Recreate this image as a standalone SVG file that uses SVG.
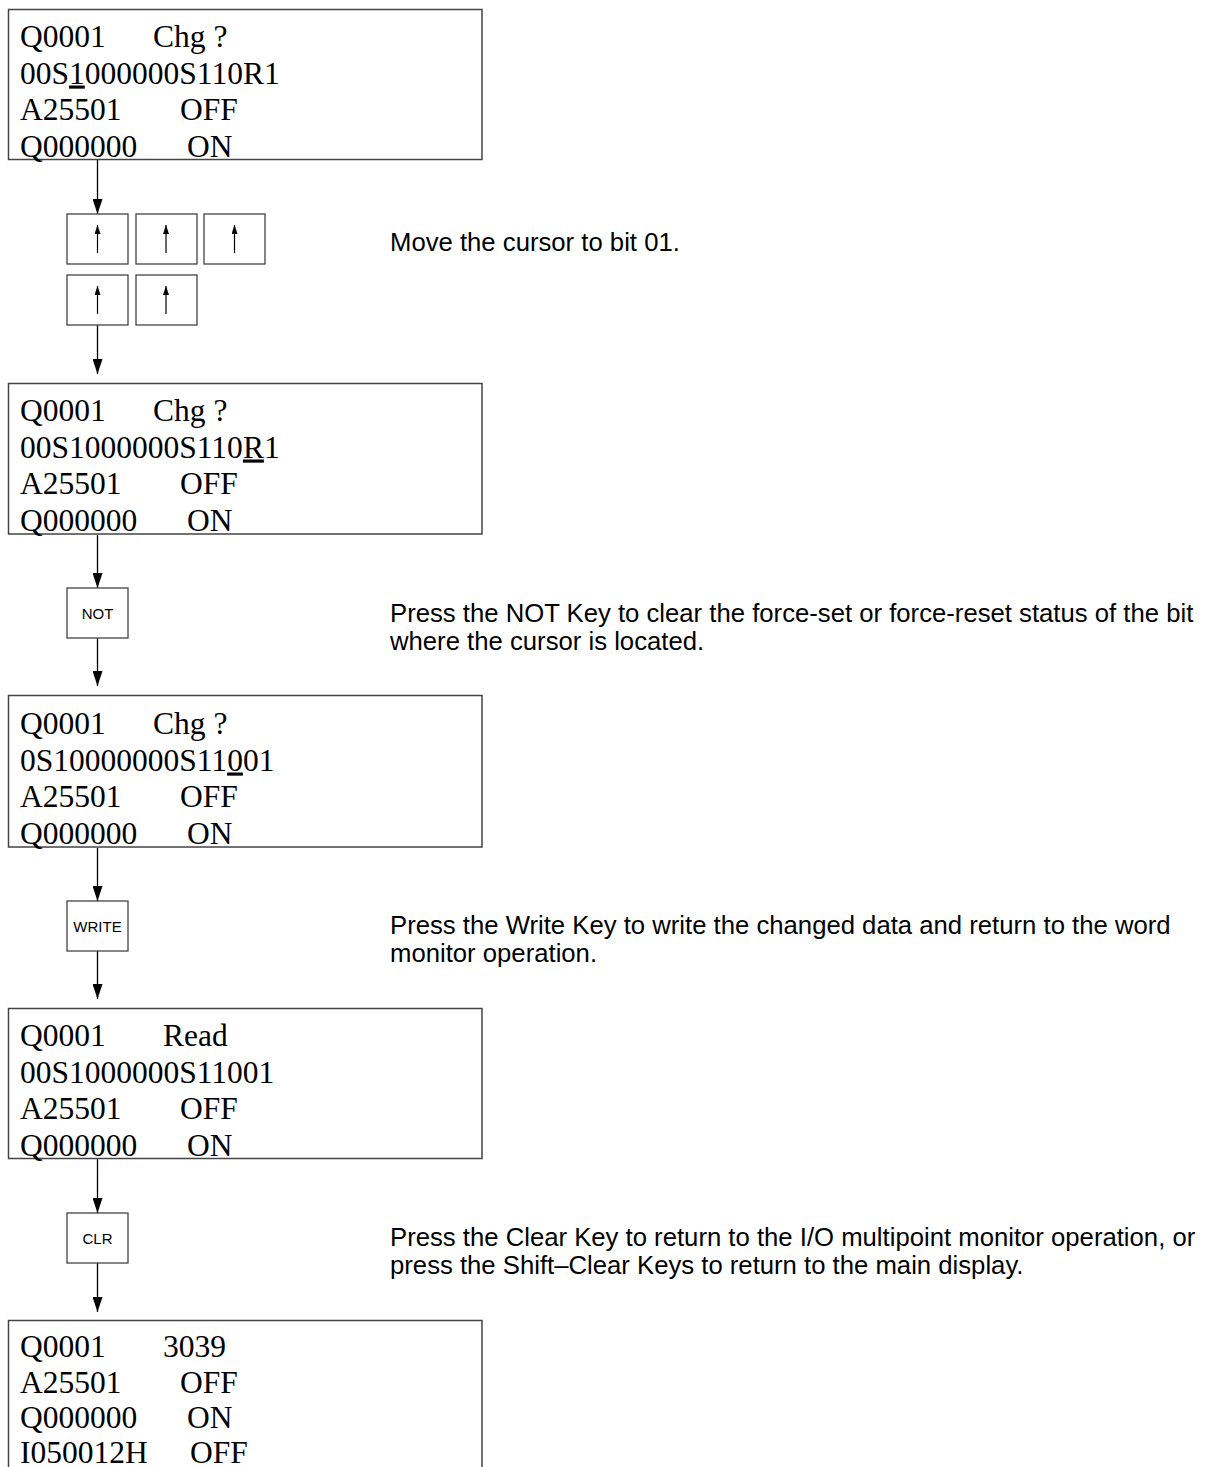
<svg xmlns="http://www.w3.org/2000/svg" width="1208" height="1467" viewBox="0 0 1208 1467">
<style>
.lcd{fill:#fff;stroke:#444;stroke-width:1.5}
.key{fill:#fff;stroke:#444;stroke-width:1.3}
.t{font-family:"Liberation Serif","Times New Roman",serif;font-size:31.5px;fill:#000}
.u{text-decoration:underline}
.k{font-family:"Liberation Sans",Arial,sans-serif;font-size:15px;fill:#000;text-anchor:middle}
.d{font-family:"Liberation Sans",Arial,sans-serif;font-size:25.7px;fill:#000}
.c{stroke:#000;stroke-width:1.3;fill:none}
.ua{stroke:#000;stroke-width:1.2}
</style>
<defs>
<marker id="ah" markerWidth="15" markerHeight="10" refX="15" refY="5" orient="auto" markerUnits="userSpaceOnUse" viewBox="0 0 15 10">
<path d="M0,0 L15,5 L0,10 Z" fill="#000"/>
</marker>
<marker id="sa" markerWidth="9" markerHeight="6" refX="9" refY="3" orient="auto" markerUnits="userSpaceOnUse" viewBox="0 0 9 6">
<path d="M0,0 L9,3 L0,6 Z" fill="#000"/>
</marker>
</defs>

<g id="connectors">
<line class="c" x1="97.5" y1="160" x2="97.5" y2="214" marker-end="url(#ah)"/>
<line class="c" x1="97.5" y1="325" x2="97.5" y2="374" marker-end="url(#ah)"/>
<line class="c" x1="97.5" y1="535" x2="97.5" y2="588" marker-end="url(#ah)"/>
<line class="c" x1="97.5" y1="638" x2="97.5" y2="686" marker-end="url(#ah)"/>
<line class="c" x1="97.5" y1="848" x2="97.5" y2="901" marker-end="url(#ah)"/>
<line class="c" x1="97.5" y1="951" x2="97.5" y2="999" marker-end="url(#ah)"/>
<line class="c" x1="97.5" y1="1159" x2="97.5" y2="1213" marker-end="url(#ah)"/>
<line class="c" x1="97.5" y1="1263" x2="97.5" y2="1312" marker-end="url(#ah)"/>
</g>

<g id="lcd1">
<rect class="lcd" x="8.5" y="9.5" width="473.5" height="150"/>
<text class="t" y="47"><tspan x="20">Q0001</tspan><tspan x="153">Chg ?</tspan></text>
<text class="t" x="20" y="83.5">00S<tspan class="u">1</tspan>000000S110R1</text>
<text class="t" y="120"><tspan x="20">A25501</tspan><tspan x="180">OFF</tspan></text>
<text class="t" y="157"><tspan x="20">Q000000</tspan><tspan x="187">ON</tspan></text>
</g>

<g id="keys-up">
<rect class="key" x="67" y="214" width="61" height="50"/>
<line class="ua" x1="97.5" y1="253" x2="97.5" y2="225" marker-end="url(#sa)"/>
<rect class="key" x="136" y="214" width="61" height="50"/>
<line class="ua" x1="166" y1="253" x2="166" y2="225" marker-end="url(#sa)"/>
<rect class="key" x="204" y="214" width="61" height="50"/>
<line class="ua" x1="234.5" y1="253" x2="234.5" y2="225" marker-end="url(#sa)"/>
<rect class="key" x="67" y="275" width="61" height="50"/>
<line class="ua" x1="97.5" y1="314" x2="97.5" y2="286" marker-end="url(#sa)"/>
<rect class="key" x="136" y="275" width="61" height="50"/>
<line class="ua" x1="166" y1="314" x2="166" y2="286" marker-end="url(#sa)"/>
</g>
<g id="desc1"><text class="d" x="390" y="251">Move the cursor to bit 01.</text></g>

<g id="lcd2">
<rect class="lcd" x="8.5" y="383.5" width="473.5" height="150.5"/>
<text class="t" y="421"><tspan x="20">Q0001</tspan><tspan x="153">Chg ?</tspan></text>
<text class="t" x="20" y="457.5">00S1000000S110<tspan class="u">R</tspan>1</text>
<text class="t" y="494"><tspan x="20">A25501</tspan><tspan x="180">OFF</tspan></text>
<text class="t" y="531"><tspan x="20">Q000000</tspan><tspan x="187">ON</tspan></text>
</g>

<g id="key-not">
<rect class="key" x="67" y="588" width="61" height="50"/>
<text class="k" x="97.5" y="619">NOT</text>
</g>
<g id="desc2">
<text class="d" x="390" y="622">Press the NOT Key to clear the force-set or force-reset status of the bit</text>
<text class="d" x="390" y="650">where the cursor is located.</text>
</g>

<g id="lcd3">
<rect class="lcd" x="8.5" y="695.5" width="473.5" height="151.5"/>
<text class="t" y="734"><tspan x="20">Q0001</tspan><tspan x="153">Chg ?</tspan></text>
<text class="t" x="20" y="770.5">0S10000000S11<tspan class="u">0</tspan>01</text>
<text class="t" y="807"><tspan x="20">A25501</tspan><tspan x="180">OFF</tspan></text>
<text class="t" y="844"><tspan x="20">Q000000</tspan><tspan x="187">ON</tspan></text>
</g>

<g id="key-write">
<rect class="key" x="67" y="901" width="61" height="50"/>
<text class="k" x="97.5" y="931.5">WRITE</text>
</g>
<g id="desc3">
<text class="d" x="390" y="934">Press the Write Key to write the changed data and return to the word</text>
<text class="d" x="390" y="962">monitor operation.</text>
</g>

<g id="lcd4">
<rect class="lcd" x="8.5" y="1008.5" width="473.5" height="150"/>
<text class="t" y="1046"><tspan x="20">Q0001</tspan><tspan x="163">Read</tspan></text>
<text class="t" x="20" y="1082.5">00S1000000S11001</text>
<text class="t" y="1119"><tspan x="20">A25501</tspan><tspan x="180">OFF</tspan></text>
<text class="t" y="1156"><tspan x="20">Q000000</tspan><tspan x="187">ON</tspan></text>
</g>

<g id="key-clr">
<rect class="key" x="67" y="1213" width="61" height="50"/>
<text class="k" x="97.5" y="1244">CLR</text>
</g>
<g id="desc4">
<text class="d" x="390" y="1246">Press the Clear Key to return to the I/O multipoint monitor operation, or</text>
<text class="d" x="390" y="1274">press the Shift–Clear Keys to return to the main display.</text>
</g>

<g id="lcd5">
<rect class="lcd" x="8.5" y="1320.5" width="473.5" height="160"/>
<text class="t" y="1357"><tspan x="20">Q0001</tspan><tspan x="163">3039</tspan></text>
<text class="t" y="1392.5"><tspan x="20">A25501</tspan><tspan x="180">OFF</tspan></text>
<text class="t" y="1428"><tspan x="20">Q000000</tspan><tspan x="187">ON</tspan></text>
<text class="t" y="1462.5"><tspan x="20">I050012H</tspan><tspan x="190">OFF</tspan></text>
</g>
</svg>
